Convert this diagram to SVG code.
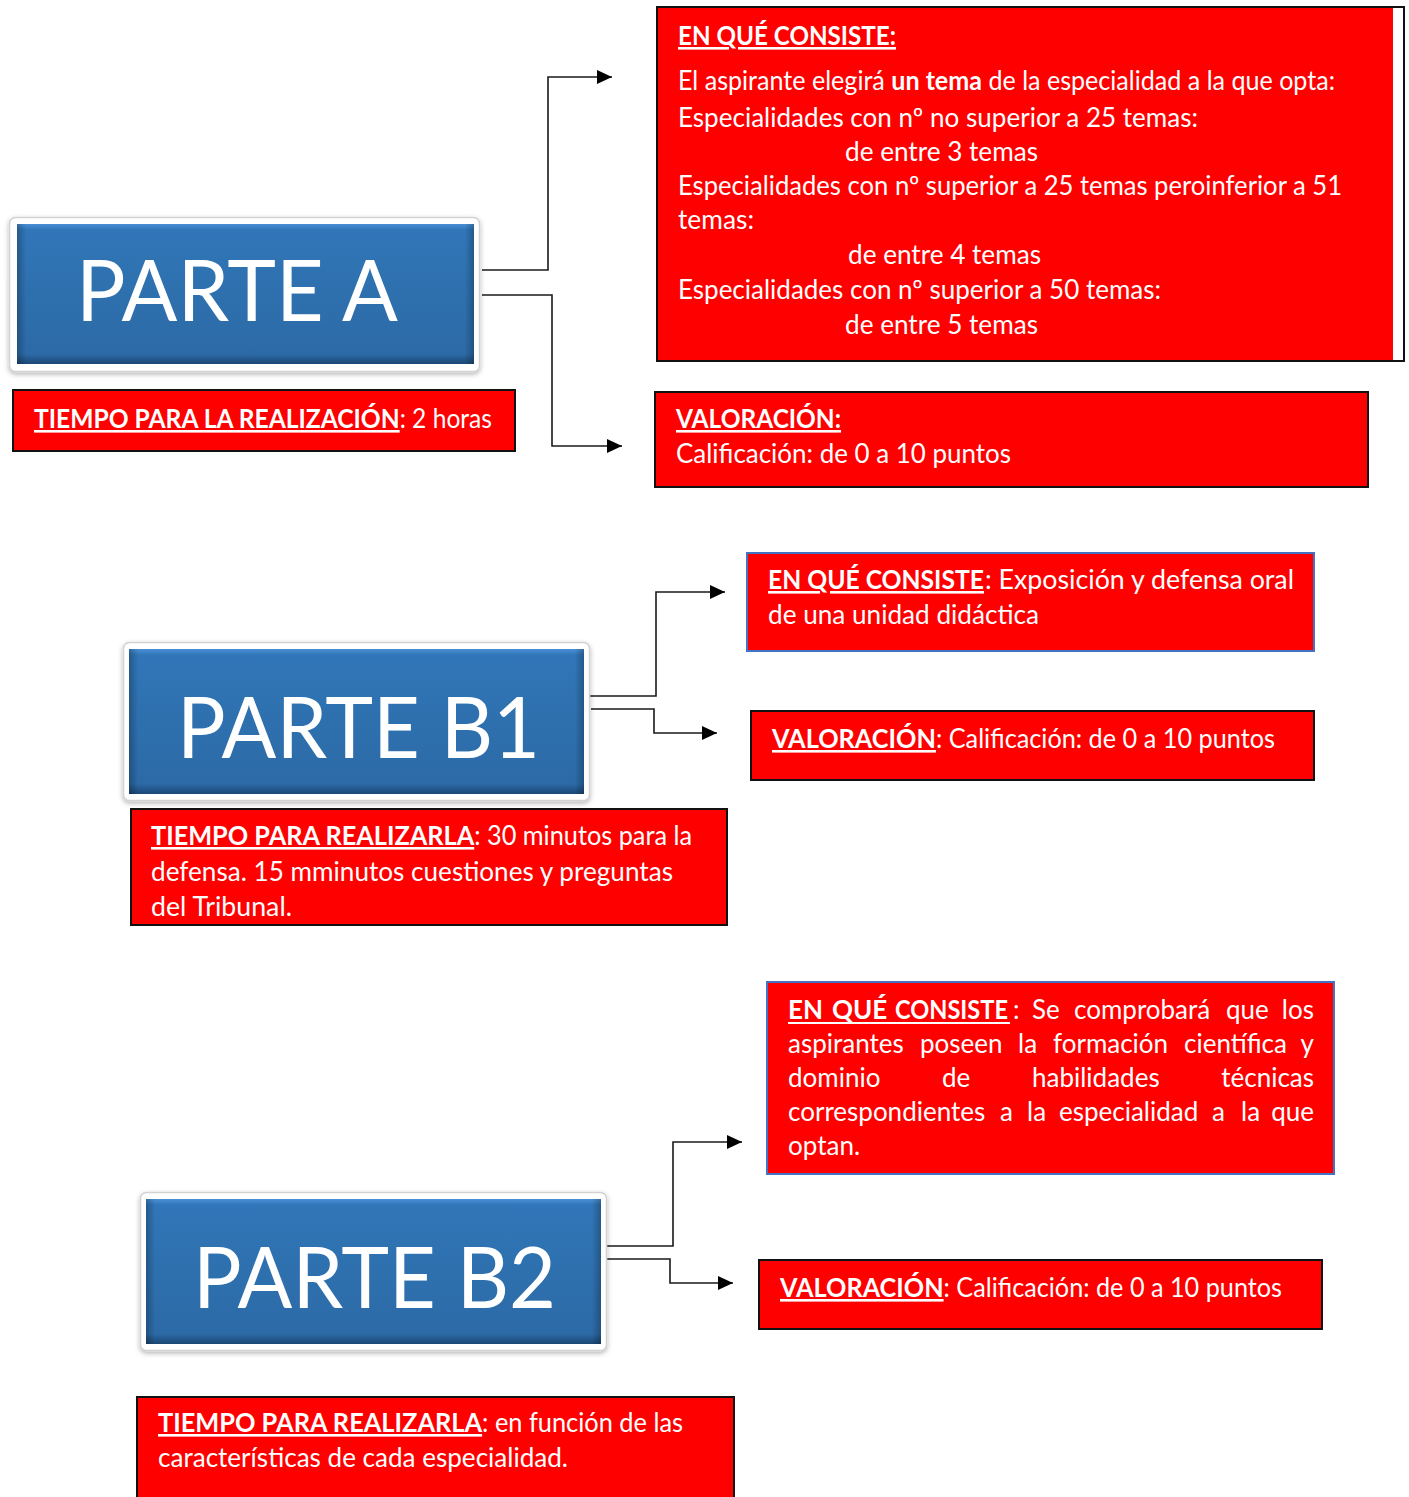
<svg xmlns="http://www.w3.org/2000/svg" width="1409" height="1497" viewBox="0 0 1409 1497">
<defs>
<style>
.t{font-family:Lato,Carlito,"Liberation Sans",sans-serif;font-size:26px;fill:#fff}
.b{font-weight:bold}
.u{text-decoration:underline}
.title{font-family:Lato,Carlito,"Liberation Sans",sans-serif;font-size:85px;fill:#fff}
.rb{fill:#ff0000;stroke:#111;stroke-width:2}
.rbb{fill:#ff0000;stroke:#4472c4;stroke-width:2}
.frame{fill:#fff;stroke:#d2d2d2;stroke-width:1.5}
.conn{fill:none;stroke:#1a1a1a;stroke-width:1.6}
</style>
<linearGradient id="bevV" x1="0" y1="0" x2="0" y2="1">
<stop offset="0" stop-color="#4a90d6"/>
<stop offset="0.04" stop-color="#3176b8"/>
<stop offset="0.5" stop-color="#2e70ae"/>
<stop offset="0.93" stop-color="#2c6aa7"/>
<stop offset="1" stop-color="#1b4774"/>
</linearGradient>
<linearGradient id="bevH" x1="0" y1="0" x2="1" y2="0">
<stop offset="0" stop-color="#000" stop-opacity="0.25"/>
<stop offset="0.02" stop-color="#000" stop-opacity="0"/>
<stop offset="0.98" stop-color="#000" stop-opacity="0"/>
<stop offset="1" stop-color="#000" stop-opacity="0.25"/>
</linearGradient>
<filter id="sh" x="-10%" y="-10%" width="120%" height="125%">
<feDropShadow dx="0" dy="2" stdDeviation="2.5" flood-color="#000" flood-opacity="0.3"/>
</filter>
<marker id="arr" viewBox="0 0 15 14" markerWidth="15" markerHeight="14" refX="15" refY="7" orient="auto" markerUnits="userSpaceOnUse">
<path d="M0,0 L15,7 L0,14 z" fill="#000"/>
</marker>
</defs>

<g id="connectors">
<path class="conn" d="M482,270 H548 V77 H612" marker-end="url(#arr)"/>
<path class="conn" d="M482,295 H552 V446 H622" marker-end="url(#arr)"/>
<path class="conn" d="M588,696 H656 V592 H725" marker-end="url(#arr)"/>
<path class="conn" d="M591,709 H654 V733 H717" marker-end="url(#arr)"/>
<path class="conn" d="M604,1246 H673 V1142 H742" marker-end="url(#arr)"/>
<path class="conn" d="M607,1259 H670 V1283 H733" marker-end="url(#arr)"/>
</g>

<g id="parteA">
<rect class="frame" x="9.5" y="217.5" width="470" height="154" rx="6" filter="url(#sh)"/>
<rect x="17" y="224" width="457" height="140" fill="url(#bevV)"/>
<rect x="17" y="224" width="457" height="140" fill="url(#bevH)"/>
<text class="title" x="76" y="321" textLength="322" lengthAdjust="spacingAndGlyphs">PARTE A</text>
</g>

<g id="parteA-consiste">
<rect x="657" y="7" width="747" height="354" fill="#fff" stroke="#111" stroke-width="2"/>
<rect x="658" y="8" width="735" height="352" fill="#ff0000"/>
<text class="t b u" x="678" y="45" textLength="218" lengthAdjust="spacingAndGlyphs">EN QUÉ CONSISTE:</text>
<text class="t" x="678" y="90" textLength="657" lengthAdjust="spacingAndGlyphs">El aspirante elegirá <tspan class="b">un tema</tspan> de la especialidad a la que opta:</text>
<text class="t" x="678" y="127" textLength="520" lengthAdjust="spacingAndGlyphs">Especialidades con nº no superior a 25 temas:</text>
<text class="t" x="845" y="161" textLength="193" lengthAdjust="spacingAndGlyphs">de entre 3 temas</text>
<text class="t" x="678" y="195" textLength="664" lengthAdjust="spacingAndGlyphs">Especialidades con nº superior a 25 temas peroinferior a 51</text>
<text class="t" x="678" y="229" textLength="76" lengthAdjust="spacingAndGlyphs">temas:</text>
<text class="t" x="848" y="264" textLength="193" lengthAdjust="spacingAndGlyphs">de entre 4 temas</text>
<text class="t" x="678" y="299" textLength="483" lengthAdjust="spacingAndGlyphs">Especialidades con nº superior a 50 temas:</text>
<text class="t" x="845" y="334" textLength="193" lengthAdjust="spacingAndGlyphs">de entre 5 temas</text>
</g>

<g id="parteA-tiempo">
<rect class="rb" x="13" y="390" width="502" height="61"/>
<text class="t" x="34" y="428" textLength="458" lengthAdjust="spacingAndGlyphs"><tspan class="b u">TIEMPO PARA LA REALIZACIÓN</tspan>: 2 horas</text>
</g>

<g id="parteA-valoracion">
<rect class="rb" x="655" y="392" width="713" height="95"/>
<text class="t b u" x="676" y="428" textLength="165" lengthAdjust="spacingAndGlyphs">VALORACIÓN:</text>
<text class="t" x="676" y="463" textLength="335" lengthAdjust="spacingAndGlyphs">Calificación: de 0 a 10 puntos</text>
</g>

<g id="parteB1">
<rect class="frame" x="123.5" y="642.5" width="466" height="158" rx="6" filter="url(#sh)"/>
<rect x="129" y="649" width="455" height="145" fill="url(#bevV)"/>
<rect x="129" y="649" width="455" height="145" fill="url(#bevH)"/>
<text class="title" x="177" y="758" textLength="363" lengthAdjust="spacingAndGlyphs">PARTE B1</text>
</g>

<g id="parteB1-consiste">
<rect class="rbb" x="747" y="553" width="567" height="98"/>
<text class="t b u" x="768" y="589" textLength="216" lengthAdjust="spacingAndGlyphs">EN QUÉ CONSISTE</text>
<text class="t" x="985" y="589" textLength="309" lengthAdjust="spacingAndGlyphs">: Exposición y defensa oral</text>
<text class="t" x="768" y="624" textLength="271" lengthAdjust="spacingAndGlyphs">de una unidad didáctica</text>
</g>

<g id="parteB1-valoracion">
<rect class="rb" x="751" y="711" width="563" height="69"/>
<text class="t" x="772" y="748" textLength="503" lengthAdjust="spacingAndGlyphs"><tspan class="b u">VALORACIÓN</tspan>: Calificación: de 0 a 10 puntos</text>
</g>

<g id="parteB1-tiempo">
<rect class="rb" x="131" y="809" width="596" height="116"/>
<text class="t" x="151" y="845" textLength="541" lengthAdjust="spacingAndGlyphs"><tspan class="b u">TIEMPO PARA REALIZARLA</tspan>: 30 minutos para la</text>
<text class="t" x="151" y="881" textLength="522" lengthAdjust="spacingAndGlyphs">defensa. 15 mminutos cuestiones y preguntas</text>
<text class="t" x="151" y="916" textLength="141" lengthAdjust="spacingAndGlyphs">del Tribunal.</text>
</g>

<g id="parteB2">
<rect class="frame" x="140.5" y="1192.5" width="466" height="158" rx="6" filter="url(#sh)"/>
<rect x="146" y="1199" width="455" height="145" fill="url(#bevV)"/>
<rect x="146" y="1199" width="455" height="145" fill="url(#bevH)"/>
<text class="title" x="193" y="1308" textLength="363" lengthAdjust="spacingAndGlyphs">PARTE B2</text>
</g>

<g id="parteB2-consiste">
<rect class="rbb" x="767" y="982" width="567" height="192"/>
<rect x="788" y="1022" width="222" height="2" fill="#fff"/>
<text class="t b" y="1019"><tspan x="788">EN</tspan><tspan x="832">QUÉ</tspan><tspan x="895" textLength="113" lengthAdjust="spacingAndGlyphs">CONSISTE</tspan></text>
<text class="t" y="1019"><tspan x="1013">:</tspan><tspan x="1032">Se</tspan><tspan x="1074">comprobará</tspan><tspan x="1226">que</tspan></text>
<text class="t" x="1314" y="1019" text-anchor="end">los</text>
<text class="t" y="1053"><tspan x="788">aspirantes</tspan><tspan x="920">poseen</tspan><tspan x="1018">la</tspan><tspan x="1053">formación</tspan><tspan x="1184">científica</tspan></text>
<text class="t" x="1314" y="1053" text-anchor="end">y</text>
<text class="t" y="1087"><tspan x="788">dominio</tspan><tspan x="942">de</tspan><tspan x="1032">habilidades</tspan></text>
<text class="t" x="1314" y="1087" text-anchor="end">técnicas</text>
<text class="t" y="1121"><tspan x="788">correspondientes</tspan><tspan x="1000">a</tspan><tspan x="1027">la</tspan><tspan x="1059">especialidad</tspan><tspan x="1212">a</tspan><tspan x="1241">la</tspan></text>
<text class="t" x="1314" y="1121" text-anchor="end">que</text>
<text class="t" x="788" y="1155">optan.</text>
</g>

<g id="parteB2-valoracion">
<rect class="rb" x="759" y="1260" width="563" height="69"/>
<text class="t" x="780" y="1297" textLength="502" lengthAdjust="spacingAndGlyphs"><tspan class="b u">VALORACIÓN</tspan>: Calificación: de 0 a 10 puntos</text>
</g>

<g id="parteB2-tiempo">
<rect class="rb" x="137" y="1397" width="597" height="115"/>
<text class="t" x="158" y="1432" textLength="525" lengthAdjust="spacingAndGlyphs"><tspan class="b u">TIEMPO PARA REALIZARLA</tspan>: en función de las</text>
<text class="t" x="158" y="1467" textLength="410" lengthAdjust="spacingAndGlyphs">características de cada especialidad.</text>
</g>
</svg>
